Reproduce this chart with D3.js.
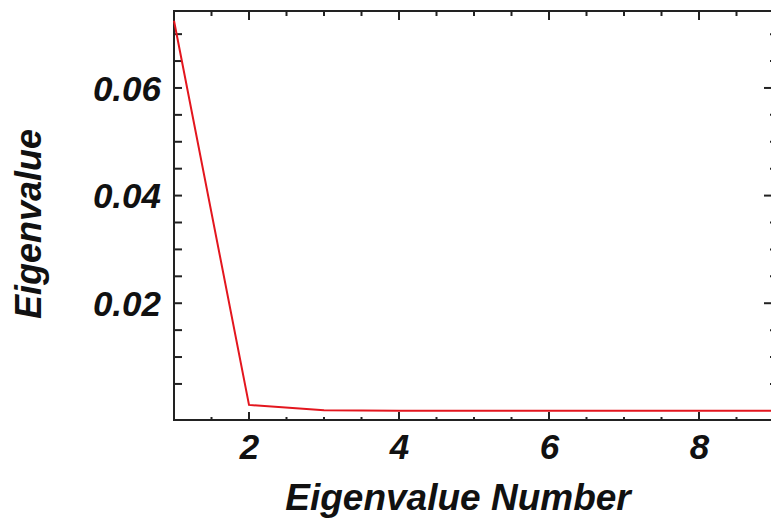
<!DOCTYPE html>
<html>
<head>
<meta charset="utf-8">
<script src="https://cdn.jsdelivr.net/npm/d3@7"></script>
<style>
  body { margin: 0; background: #fff; }
  svg text { font-family: "Liberation Sans", Arial, sans-serif; font-weight: bold; font-style: italic; fill: #111; }
</style>
</head>
<body>
<div id="chart"></div>
<script>
// eigenvalue index and value (scree plot)
var eigenNumber = [1, 2, 3, 4, 5, 6, 7, 8, 9];
var eigenValue = [0.0725, 0.0011, 0.0001, 0.00004, 0.00002, 0.00001, 0.000006, 0.000003, 0.000001];

var yTickLabels = [0.02, 0.04, 0.06];
var xTickLabels = [2, 4, 6, 8];

var W = 771, H = 519;
var plotLeft = 174, plotRight = 774, plotTop = 11, plotBottom = 420;

var svg = d3.select("#chart").append("svg:svg")
    .attr("width", W)
    .attr("height", H);

var x = d3.scaleLinear().domain([1, 9]).range([plotLeft, plotRight]);
var y = d3.scaleLinear().domain([-0.0017, 0.0743]).range([plotBottom, plotTop]);

var xMinor = d3.range(1.5, 9, 0.5).filter(function(v){ return xTickLabels.indexOf(v) < 0; });
// ticks every 0.005, none at zero
var yAll = d3.range(1, 15).map(function(k){ return k * 0.005; });

var frame = svg.append("svg:g").attr("id", "frame");

// bottom axis labels
frame.append("g")
    .attr("transform", "translate(0," + plotBottom + ")")
    .call(d3.axisBottom(x).tickValues(xTickLabels).tickSize(0).tickPadding(14)
        .tickFormat(d3.format("d")))
    .call(function(g){
        g.select(".domain").remove();
        g.selectAll("text").attr("font-size", 35).attr("fill", "#111")
            .style("font-family", "Liberation Sans, Arial, sans-serif");
    });

function hTicks(vals, yPos, len){
    frame.selectAll(null).data(vals).enter().append("svg:line")
        .attr("x1", function(d){ return x(d); })
        .attr("x2", function(d){ return x(d); })
        .attr("y1", yPos)
        .attr("y2", yPos + len)
        .attr("stroke", "#222")
        .attr("stroke-width", 2);
}
// bottom ticks point up, top ticks point down
hTicks(xTickLabels, plotBottom, -8);
hTicks(xMinor, plotBottom, -3);
hTicks(xTickLabels, plotTop, 9);
hTicks(xMinor, plotTop, 5);

// left ticks (all same length)
frame.selectAll(null).data(yAll).enter().append("svg:line")
    .attr("x1", plotLeft)
    .attr("x2", plotLeft + 8)
    .attr("y1", function(d){ return y(d); })
    .attr("y2", function(d){ return y(d); })
    .attr("stroke", "#222")
    .attr("stroke-width", 2);

// right ticks
frame.selectAll(null).data(yAll).enter().append("svg:line")
    .attr("x1", plotRight)
    .attr("x2", function(d){
        var major = Math.abs(Math.round(d / 0.02) * 0.02 - d) < 1e-9;
        return plotRight - (major ? 10 : 4);
    })
    .attr("y1", function(d){ return y(d); })
    .attr("y2", function(d){ return y(d); })
    .attr("stroke", "#222")
    .attr("stroke-width", 2);

// y tick labels
frame.selectAll(null).data(yTickLabels).enter().append("svg:text")
    .attr("x", plotLeft - 13)
    .attr("y", function(d){ return y(d); })
    .attr("dy", "0.36em")
    .attr("text-anchor", "end")
    .attr("font-size", 35)
    .text(function(d){ return d3.format(".2f")(d); });

// axis box
frame.append("svg:rect")
    .attr("x", plotLeft)
    .attr("y", plotTop)
    .attr("width", plotRight - plotLeft)
    .attr("height", plotBottom - plotTop)
    .attr("fill", "none")
    .attr("stroke", "#222")
    .attr("stroke-width", 2);

// data line
var line = d3.line()
    .x(function(d, i){ return x(eigenNumber[i]); })
    .y(function(d){ return y(d); });

svg.append("svg:path")
    .datum(eigenValue)
    .attr("d", line)
    .attr("fill", "none")
    .attr("stroke", "#e3161e")
    .attr("stroke-width", 2);

// axis titles
svg.append("svg:text")
    .attr("x", 458)
    .attr("y", 510)
    .attr("text-anchor", "middle")
    .attr("font-size", 37)
    .text("Eigenvalue Number");

svg.append("svg:text")
    .attr("transform", "translate(41,224) rotate(-90)")
    .attr("text-anchor", "middle")
    .attr("font-size", 36)
    .text("Eigenvalue");
</script>
</body>
</html>
